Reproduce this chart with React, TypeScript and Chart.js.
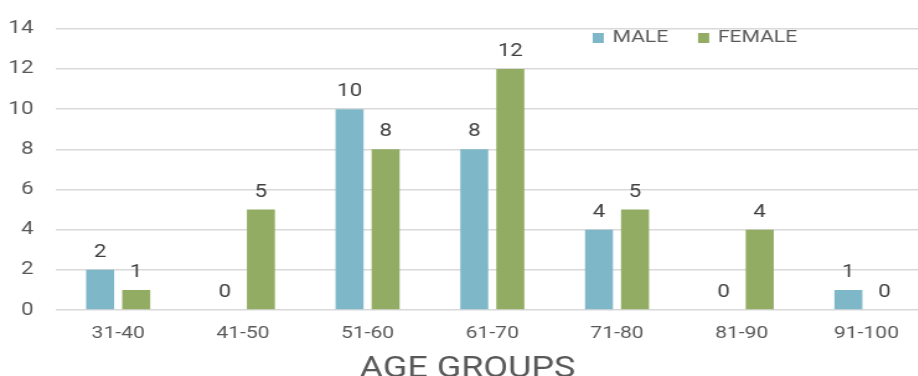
import React, { useEffect, useRef } from "react";
import { Chart, registerables } from "chart.js";

Chart.register(...registerables);

const categories = ["31-40", "41-50", "51-60", "61-70", "71-80", "81-90", "91-100"];
const maleValues = [2, 0, 10, 8, 4, 0, 1];
const femaleValues = [1, 5, 8, 12, 5, 4, 0];
const seriesLabels = ["MALE", "FEMALE"];
const yMin = 0;
const yMax = 14;
const yStep = 2;
const xTitle = "AGE GROUPS";

const MALE_COLOR = "rgb(126,184,200)";
const FEMALE_COLOR = "rgb(146,173,99)";
const TEXT_COLOR = "#595959";
const LABEL_COLOR = "#404040";
const STRETCH = 1.24;
const CANVAS_W = 754;
const CANVAS_H = 376;

const valueLabels = {
  id: "valueLabels",
  afterDatasetsDraw(chart: any) {
    const ctx = chart.ctx;
    ctx.save();
    ctx.font = "18px Roboto";
    ctx.fillStyle = LABEL_COLOR;
    ctx.textAlign = "center";
    ctx.textBaseline = "alphabetic";
    chart.data.datasets.forEach((ds: any, i: number) => {
      const meta = chart.getDatasetMeta(i);
      meta.data.forEach((el: any, j: number) => {
        ctx.fillText(String(ds.data[j]), el.x, el.y - 13);
      });
    });
    ctx.restore();
  },
};

const customLegend = {
  id: "customLegend",
  afterDraw(chart: any) {
    const ctx = chart.ctx;
    ctx.save();
    ctx.font = "17px Roboto";
    ctx.textBaseline = "middle";
    ctx.textAlign = "left";
    let x = 478;
    const yMid = 38;
    chart.data.datasets.forEach((ds: any) => {
      ctx.fillStyle = ds.backgroundColor;
      ctx.fillRect(x, yMid - 5, 9, 10);
      x += 9 + 7;
      ctx.fillStyle = TEXT_COLOR;
      ctx.fillText(ds.label, x, yMid);
      x += ctx.measureText(ds.label).width + 24;
    });
    ctx.restore();
  },
};

const axisTitle = {
  id: "axisTitle",
  afterDraw(chart: any) {
    const ctx = chart.ctx;
    ctx.save();
    ctx.font = "29px Roboto";
    ctx.fillStyle = TEXT_COLOR;
    ctx.textAlign = "center";
    ctx.textBaseline = "alphabetic";
    ctx.fillText(xTitle, chart.width / 2, 377);
    ctx.restore();
  },
};

export default function App() {
  const ref = useRef<HTMLCanvasElement | null>(null);

  useEffect(() => {
    if (!ref.current) return;
    Chart.defaults.font.family = "Roboto";
    const chart = new Chart(ref.current, {
      type: "bar",
      data: {
        labels: categories,
        datasets: [
          {
            label: seriesLabels[0],
            data: maleValues,
            backgroundColor: MALE_COLOR,
            barPercentage: 0.777,
            categoryPercentage: 0.578,
          },
          {
            label: seriesLabels[1],
            data: femaleValues,
            backgroundColor: FEMALE_COLOR,
            barPercentage: 0.777,
            categoryPercentage: 0.578,
          },
        ],
      },
      options: {
        responsive: false,
        maintainAspectRatio: false,
        animation: false,
        devicePixelRatio: 1,
        layout: { padding: { top: 24, right: 5, left: 0, bottom: 32 } },
        plugins: {
          legend: { display: false },
          tooltip: { enabled: false },
          title: { display: false },
        },
        scales: {
          x: {
            afterFit: (scale: any) => {
              scale.height = 34;
            },
            grid: { display: false, drawTicks: false },
            border: { display: false },
            ticks: {
              color: TEXT_COLOR,
              font: { size: 17, family: "Roboto" },
              padding: 14,
              maxRotation: 0,
            },
          },
          y: {
            min: yMin,
            max: yMax,
            afterFit: (scale: any) => {
              scale.width = 45;
            },
            grid: { color: "#d9d9d9", lineWidth: 1.5, drawTicks: false },
            border: { display: false },
            ticks: {
              stepSize: yStep,
              color: TEXT_COLOR,
              font: { size: 18, family: "Roboto" },
              padding: 18,
            },
          },
        },
      },
      plugins: [valueLabels, customLegend, axisTitle],
    });
    return () => chart.destroy();
  }, []);

  return (
    <div
      style={{
        position: "absolute",
        left: 0,
        top: 0,
        width: 918,
        height: 376,
        overflow: "hidden",
        background: "#fff",
      }}
    >
      <div
        style={{
          width: CANVAS_W,
          height: CANVAS_H,
          transform: `scaleX(${STRETCH})`,
          transformOrigin: "0 0",
        }}
      >
        <canvas
          ref={ref}
          width={CANVAS_W}
          height={CANVAS_H}
          style={{ display: "block", width: CANVAS_W, height: CANVAS_H }}
        />
      </div>
    </div>
  );
}
